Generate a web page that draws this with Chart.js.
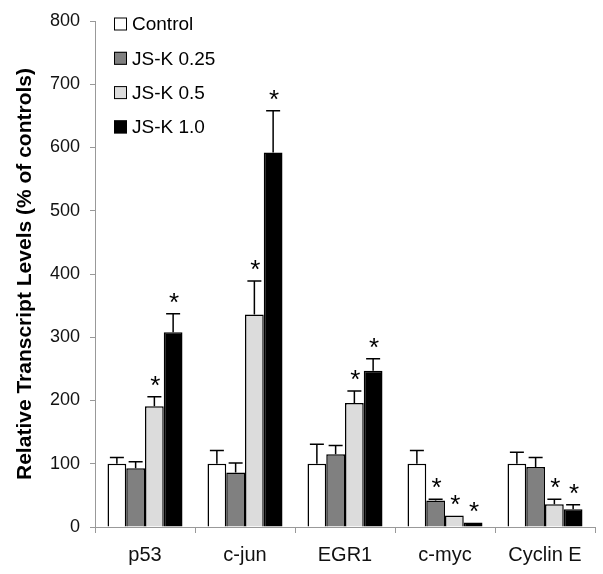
<!DOCTYPE html>
<html>
<head>
<meta charset="utf-8">
<script src="https://cdn.jsdelivr.net/npm/chart.js@4.4.1/dist/chart.umd.min.js"></script>
<style>
  html, body { margin: 0; padding: 0; background: #fff; }
  canvas { display: block; }
</style>
</head>
<body>
<canvas id="chart" width="603" height="574"></canvas>
<script>
// --- Data ---
const CATEGORIES = ['p53', 'c-jun', 'EGR1', 'c-myc', 'Cyclin E'];
const SERIES = ['Control', 'JS-K 0.25', 'JS-K 0.5', 'JS-K 1.0'];
const COLORS = ['#ffffff', '#808080', '#dcdcdc', '#000000'];

const CONTROL = [100, 100, 100, 100, 100];
const JSK_025 = [93, 86, 115, 42, 95];
const JSK_05  = [191, 336, 196, 18, 36];
const JSK_10  = [308, 592, 247, 7, 28];

const ERR_CONTROL = [10, 21, 31, 21, 18];
const ERR_025 = [10, 15, 14, 2, 15];
const ERR_05  = [15, 53, 19, 0, 8];
const ERR_10  = [29, 66, 19, 0, 7];

// significant vs control (asterisk)
const SIG_CONTROL = [false, false, false, false, false];
const SIG_025 = [false, false, false, true, false];
const SIG_05  = [true, true, true, true, true];
const SIG_10  = [true, true, true, true, true];

const Y_TICKS = [0, 100, 200, 300, 400, 500, 600, 700, 800];

const VALUES = [CONTROL, JSK_025, JSK_05, JSK_10];
const ERRORS = [ERR_CONTROL, ERR_025, ERR_05, ERR_10];
const SIGS = [SIG_CONTROL, SIG_025, SIG_05, SIG_10];

const FONT = 'Liberation Sans, Arial, sans-serif';

// --- Error bars + asterisks ---
const errorBarPlugin = {
  id: 'errorBars',
  afterDatasetsDraw(chart) {
    const ctx = chart.ctx;
    const y = chart.scales.y;
    ctx.save();
    ctx.strokeStyle = '#000';
    ctx.lineWidth = 1.5;
    ctx.fillStyle = '#000';
    ctx.font = '26px ' + FONT;
    ctx.textAlign = 'center';
    ctx.textBaseline = 'alphabetic';
    chart.data.datasets.forEach((ds, i) => {
      chart.getDatasetMeta(i).data.forEach((bar, j) => {
        const v = VALUES[i][j], e = ERRORS[i][j];
        const yTop = y.getPixelForValue(v);
        const yErr = y.getPixelForValue(v + e);
        if (e > 0) {
          ctx.beginPath();
          ctx.moveTo(bar.x, yTop);
          ctx.lineTo(bar.x, yErr);
          ctx.moveTo(bar.x - 7, yErr);
          ctx.lineTo(bar.x + 7, yErr);
          ctx.stroke();
        }
        if (SIGS[i][j]) ctx.fillText('*', bar.x + 1, yErr - 3);
      });
    });
    ctx.restore();
  }
};

// --- Legend drawn inside plot area ---
const innerLegend = {
  id: 'innerLegend',
  afterDraw(chart) {
    const ctx = chart.ctx;
    const x0 = chart.chartArea.left + 19;
    const y0 = chart.chartArea.top + 3;
    ctx.save();
    ctx.font = '19px ' + FONT;
    ctx.textBaseline = 'middle';
    ctx.textAlign = 'left';
    chart.data.datasets.forEach((ds, i) => {
      const cy = y0 + i * 34.3;
      ctx.fillStyle = ds.backgroundColor;
      ctx.fillRect(x0, cy - 6.5, 13, 13);
      ctx.strokeStyle = '#000';
      ctx.lineWidth = 1;
      ctx.strokeRect(x0 + 0.5, cy - 6, 12, 12);
      ctx.fillStyle = '#000';
      ctx.fillText(ds.label, x0 + 18, cy + 1);
    });
    ctx.restore();
  }
};

new Chart(document.getElementById('chart'), {
  type: 'bar',
  data: {
    labels: CATEGORIES,
    datasets: SERIES.map((name, i) => ({
      label: name,
      data: VALUES[i],
      backgroundColor: COLORS[i],
      borderColor: '#000',
      borderWidth: 1.5,
      borderSkipped: 'bottom',
      categoryPercentage: 0.75,
      barPercentage: 1.0
    }))
  },
  options: {
    responsive: false,
    devicePixelRatio: 1,
    animation: false,
    layout: { padding: { top: 21, right: 8, left: 0, bottom: 0 } },
    plugins: {
      legend: { display: false },
      tooltip: { enabled: false }
    },
    scales: {
      x: {
        grid: { display: true, drawOnChartArea: false, offset: true, tickLength: 6, color: '#999' },
        border: { color: '#999', width: 1 },
        ticks: { color: '#111', font: { family: FONT, size: 20 }, padding: 10, maxRotation: 0 },
        afterFit: s => { s.height = 47; }
      },
      y: {
        min: 0, max: 800,
        afterBuildTicks: s => { s.ticks = Y_TICKS.map(v => ({ value: v })); },
        grid: { display: true, drawOnChartArea: false, tickLength: 5, color: '#999' },
        border: { color: '#999', width: 1 },
        ticks: { color: '#111', font: { family: FONT, size: 18 }, padding: 10 },
        title: {
          display: true,
          text: 'Relative Transcript Levels (% of controls)',
          color: '#000',
          font: { family: FONT, size: 21, weight: 'bold' },
          padding: { top: 13, bottom: 0 }
        },
        afterFit: s => { s.width = 95; }
      }
    }
  },
  plugins: [errorBarPlugin, innerLegend]
});
</script>
</body>
</html>
